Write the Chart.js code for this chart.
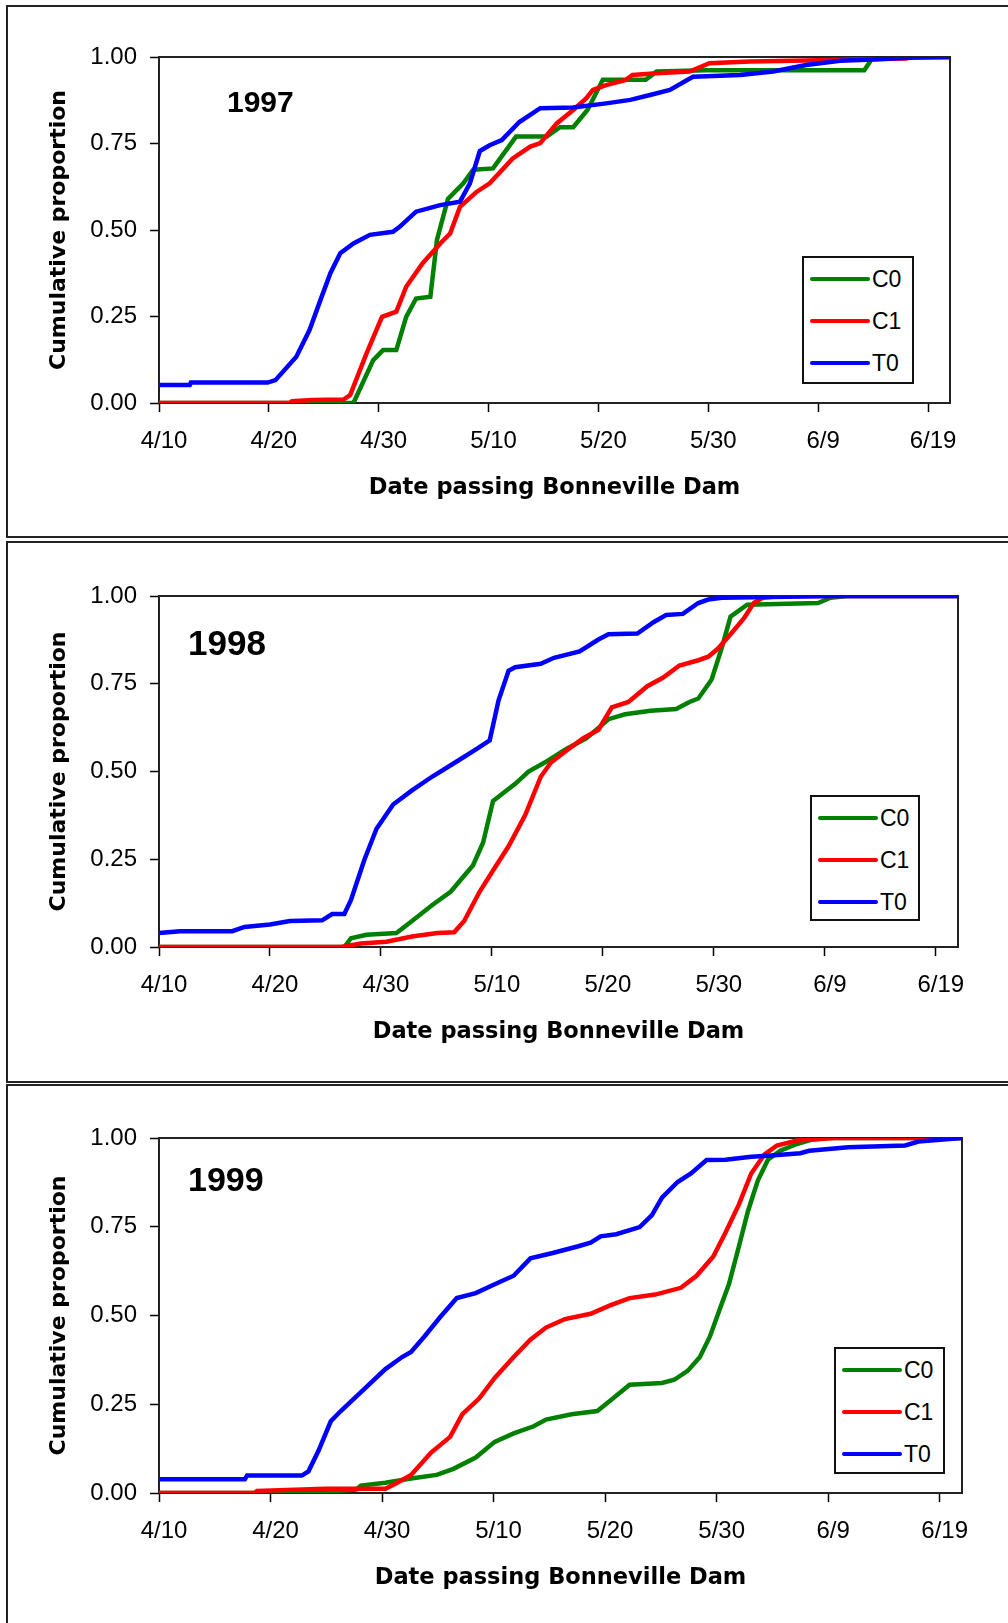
<!DOCTYPE html>
<html>
<head>
<meta charset="utf-8">
<script src="https://cdn.jsdelivr.net/npm/chart.js@4.4.1/dist/chart.umd.min.js"></script>
<style>
  html, body { margin: 0; padding: 0; background: #fff; }
  body { width: 1008px; height: 1623px; position: relative; overflow: hidden; }
  .frame { position: absolute; border: 2px solid #222; box-sizing: border-box; }
  canvas { position: absolute; left: 0; }
  .legend { position: absolute; border: 2px solid #111; background: #fff; box-sizing: border-box;
            font-family: "Liberation Sans", Arial, sans-serif; font-size: 23px; color: #000; }
  .legend .row { position: absolute; left: 6px; height: 24px; display: flex; align-items: center; }
  .legend .swatch { width: 60px; height: 4px; border-radius: 2px; margin-right: 2px; }
</style>
</head>
<body>
<div class="frame" style="left:6px;top:5px;width:1010px;height:533px"></div>
<div class="frame" style="left:6px;top:541px;width:1010px;height:542px"></div>
<div class="frame" style="left:6px;top:1084px;width:1010px;height:560px"></div>
<canvas id="c1997" width="1008" height="540" style="top:0"></canvas>
<canvas id="c1998" width="1008" height="543" style="top:540px"></canvas>
<canvas id="c1999" width="1008" height="540" style="top:1083px"></canvas>
<script>
// x values are days after 4/10, y values are cumulative proportions
const dateTicks = ['4/10', '4/20', '4/30', '5/10', '5/20', '5/30', '6/9', '6/19'];
const yTicks = ['0.00', '0.25', '0.50', '0.75', '1.00'];
const seriesNames = ['C0', 'C1', 'T0'];
const seriesColors = ['#008000', '#ff0000', '#0000ff'];
const xTitle = 'Date passing Bonneville Dam';
const yTitle = 'Cumulative proportion';

// 1997
const c0_1997 = [[0,0],[17.7,0],[19.5,0.124],[20.4,0.153],[21.6,0.153],[22.5,0.249],[23.4,0.302],[24.7,0.307],[25.3,0.471],[26.3,0.59],[27.7,0.635],[28.6,0.674],[30.4,0.678],[32.5,0.77],[35.3,0.77],[36.5,0.797],[37.7,0.797],[39,0.847],[40.4,0.934],[44.3,0.934],[45.3,0.958],[49.8,0.962],[64.2,0.962],[65,1],[72,1]];
const c1_1997 = [[0,0],[11.9,0],[12.1,0.005],[14,0.009],[16.8,0.01],[17.4,0.023],[18.9,0.144],[20.3,0.249],[21.6,0.264],[22.5,0.336],[24,0.404],[25.6,0.461],[26.5,0.49],[27.4,0.567],[28.9,0.61],[30.1,0.635],[32.2,0.707],[33.8,0.741],[34.7,0.751],[36.2,0.808],[37.7,0.847],[38.9,0.881],[39.5,0.905],[40.7,0.919],[42.5,0.934],[43.1,0.948],[45.3,0.953],[48.3,0.958],[50.1,0.982],[53.8,0.987],[58.9,0.99],[68,0.996],[68.6,1],[72,1]];
const t0_1997 = [[0,0.052],[2.8,0.052],[2.9,0.059],[9.9,0.059],[10.6,0.066],[12.5,0.134],[13.7,0.211],[14.7,0.298],[15.6,0.375],[16.5,0.433],[17.7,0.461],[19.2,0.486],[21.3,0.495],[21.9,0.509],[23.4,0.553],[25.6,0.572],[27.4,0.582],[28.3,0.635],[29.2,0.728],[30.1,0.745],[31.2,0.76],[32.8,0.812],[34.7,0.852],[37.7,0.854],[40.7,0.866],[42.9,0.876],[44.7,0.89],[46.5,0.905],[48.6,0.943],[52.9,0.948],[55.9,0.958],[58.9,0.977],[62,0.989],[65,0.993],[68,0.998],[72,1]];

// 1998
const c0_1998 = [[0,0],[16.7,0],[17.3,0.025],[18.7,0.035],[21.4,0.04],[22.8,0.074],[24.6,0.119],[26.3,0.158],[28.3,0.233],[29.2,0.297],[30.1,0.416],[32.1,0.465],[33.3,0.5],[35,0.53],[36.7,0.564],[38.5,0.594],[40.5,0.649],[42,0.663],[44.3,0.673],[46.6,0.678],[47.8,0.698],[48.6,0.708],[49.8,0.762],[50.7,0.851],[51.5,0.941],[53,0.975],[59.4,0.98],[60.5,0.995],[62,1],[72,1]];
const c1_1998 = [[0,0],[16.4,0],[18.2,0.01],[20.5,0.015],[22.8,0.03],[25.1,0.04],[26.6,0.042],[27.5,0.074],[28.9,0.158],[30.1,0.218],[31.5,0.287],[33,0.376],[34.4,0.485],[35.3,0.525],[36.7,0.559],[38.2,0.594],[39.6,0.619],[40.8,0.683],[42.3,0.698],[44,0.743],[45.4,0.767],[46.9,0.802],[48.6,0.817],[49.5,0.827],[50.4,0.851],[51.5,0.891],[52.7,0.936],[53.6,0.98],[54.4,0.995],[56,1],[72,1]];
const t0_1998 = [[0,0.04],[1.9,0.045],[6.6,0.045],[7.7,0.057],[10,0.064],[11.8,0.074],[14.7,0.076],[15.6,0.094],[16.7,0.094],[17.3,0.134],[18.5,0.248],[19.6,0.337],[21.1,0.406],[22.8,0.446],[24.6,0.485],[26.9,0.53],[28.6,0.564],[29.8,0.589],[30.6,0.703],[31.5,0.787],[32.1,0.797],[34.4,0.807],[35.6,0.824],[37.9,0.842],[39.6,0.876],[40.5,0.891],[43.1,0.893],[44.6,0.926],[45.7,0.946],[47.2,0.949],[48.6,0.98],[49.5,0.99],[50.7,0.995],[61,1],[72,1]];

// 1999
const c0_1999 = [[0,0],[14.6,0],[15,0.004],[17.7,0.01],[18.1,0.021],[20.3,0.029],[22.6,0.041],[24.9,0.051],[26.4,0.068],[28.4,0.1],[30.1,0.144],[31.8,0.168],[33.6,0.188],[34.7,0.207],[37,0.222],[39.3,0.231],[40.5,0.261],[42.2,0.305],[45.1,0.31],[46.2,0.319],[47.4,0.344],[48.5,0.383],[49.4,0.441],[50.3,0.52],[51.1,0.588],[52,0.695],[52.8,0.793],[53.7,0.881],[54.6,0.939],[55.7,0.964],[57.2,0.983],[58.6,0.996],[60,1],[72,1]];
const c1_1999 = [[0,0],[8.6,0],[8.8,0.006],[14.9,0.012],[20.3,0.012],[21.2,0.026],[22.6,0.051],[24.4,0.114],[26.1,0.158],[27.2,0.222],[28.7,0.266],[30.1,0.324],[31.8,0.383],[33.3,0.432],[34.7,0.466],[36.4,0.49],[38.7,0.505],[40.5,0.529],[42.2,0.549],[44.5,0.559],[46.8,0.578],[48.2,0.612],[49.7,0.666],[50.8,0.734],[52,0.813],[53.1,0.9],[54.3,0.954],[55.4,0.979],[57.2,0.993],[60.6,1],[72,1]];
const t0_1999 = [[0,0.039],[7.7,0.039],[7.9,0.049],[12.8,0.049],[13.4,0.061],[14.3,0.119],[15.4,0.202],[16.3,0.231],[18.3,0.29],[20.3,0.349],[21.8,0.383],[22.6,0.397],[23.8,0.441],[25.2,0.495],[26.7,0.549],[28.4,0.563],[30.1,0.588],[31.8,0.612],[33.3,0.661],[35.3,0.676],[37.6,0.695],[38.7,0.705],[39.6,0.723],[41,0.729],[43.1,0.749],[44.2,0.783],[45.1,0.832],[46.5,0.876],[47.7,0.9],[49.1,0.938],[50.8,0.939],[53.1,0.947],[54.9,0.951],[57.5,0.957],[58.3,0.964],[61.8,0.974],[66.9,0.979],[68.1,0.99],[72,1]];

// box around the plot area, drawn under the lines
const framePlugin = {
  id: 'frame',
  beforeDatasetsDraw(chart) {
    const {ctx, chartArea: a} = chart;
    ctx.save();
    ctx.strokeStyle = '#222';
    ctx.lineWidth = 2;
    ctx.strokeRect(a.left, a.top, a.right - a.left, a.bottom - a.top);
    ctx.restore();
  }
};

// year label in the upper left of the plot
const yearPlugin = {
  id: 'yearLabel',
  afterDraw(chart, args, opts) {
    const ctx = chart.ctx;
    ctx.save();
    ctx.fillStyle = '#000';
    ctx.font = 'bold ' + opts.size + 'px "Liberation Sans", Arial, sans-serif';
    ctx.textBaseline = 'alphabetic';
    ctx.fillText(opts.text, opts.x, opts.y);
    ctx.restore();
  }
};

function drawPanel(id, year, series, area, yearPos, legendBox) {
  const canvas = document.getElementById(id);
  const H = canvas.height;
  const titleFont = {family: 'DejaVu Sans', size: 22.5, weight: 'bold'};
  const tickFont = {family: 'Liberation Sans', size: 24};

  new Chart(canvas, {
    type: 'line',
    data: {
      datasets: series.map((s, i) => ({
        label: seriesNames[i],
        data: s.map(p => ({x: p[0], y: p[1]})),
        borderColor: seriesColors[i],
        borderWidth: 4.5,
        pointRadius: 0,
        tension: 0,
        fill: false,
        order: 2 - i
      }))
    },
    options: {
      responsive: false,
      animation: false,
      devicePixelRatio: 1,
      layout: {padding: {left: 0, top: area.top, right: 1008 - area.right, bottom: 0}},
      plugins: {
        legend: {display: false},
        tooltip: {enabled: false},
        yearLabel: {text: year, x: yearPos.x, y: yearPos.y, size: yearPos.size}
      },
      scales: {
        x: {
          type: 'linear', min: 0, max: 72,
          border: {display: false},
          grid: {drawOnChartArea: false, drawTicks: true, tickLength: 9, tickColor: '#000', tickWidth: 1.5},
          ticks: {
            stepSize: 10, includeBounds: false, autoSkip: false, maxRotation: 0,
            padding: 15, labelOffset: 5, color: '#000', font: tickFont,
            callback: v => dateTicks[Math.round(v / 10)]
          },
          title: {display: true, text: xTitle, color: '#000', font: titleFont,
                  padding: {top: 0, bottom: H - 13.5 - (area.bottom + 85.5)}},
          afterFit: s => { s.height = H - area.bottom; }
        },
        y: {
          min: 0, max: 1,
          border: {display: false},
          grid: {drawOnChartArea: false, drawTicks: true, tickLength: 9, tickColor: '#000', tickWidth: 1.5},
          ticks: {
            stepSize: 0.25, padding: 13, color: '#000', font: tickFont,
            callback: v => yTicks[Math.round(v * 4)]
          },
          title: {display: true, text: yTitle, color: '#000', font: {family: 'DejaVu Sans', size: 22, weight: 'bold'},
                  padding: {top: 46, bottom: 0}},
          afterFit: s => { s.width = area.left; }
        }
      }
    },
    plugins: [framePlugin, yearPlugin]
  });

  // legend box
  const lg = document.createElement('div');
  lg.className = 'legend';
  lg.style.left = legendBox.left + 'px';
  lg.style.top = legendBox.top + 'px';
  lg.style.width = legendBox.w + 'px';
  lg.style.height = legendBox.h + 'px';
  seriesNames.forEach((name, i) => {
    const row = document.createElement('div');
    row.className = 'row';
    row.style.top = (9 + i * 42) + 'px';
    const sw = document.createElement('span');
    sw.className = 'swatch';
    sw.style.background = seriesColors[i];
    const tx = document.createElement('span');
    tx.textContent = name;
    row.appendChild(sw);
    row.appendChild(tx);
    lg.appendChild(row);
  });
  document.body.appendChild(lg);
}

drawPanel('c1997', '1997', [c0_1997, c1_1997, t0_1997],
  {left: 159, right: 950, top: 57, bottom: 403},
  {x: 227, y: 112, size: 30},
  {left: 802, top: 256, w: 112, h: 128});
drawPanel('c1998', '1998', [c0_1998, c1_1998, t0_1998],
  {left: 159, right: 958, top: 56, bottom: 407},
  {x: 188, y: 115, size: 35},
  {left: 810, top: 795, w: 110, h: 126});
drawPanel('c1999', '1999', [c0_1999, c1_1999, t0_1999],
  {left: 159, right: 962, top: 55, bottom: 410},
  {x: 188, y: 108, size: 34},
  {left: 834, top: 1347, w: 111, h: 127});
</script>
</body>
</html>
